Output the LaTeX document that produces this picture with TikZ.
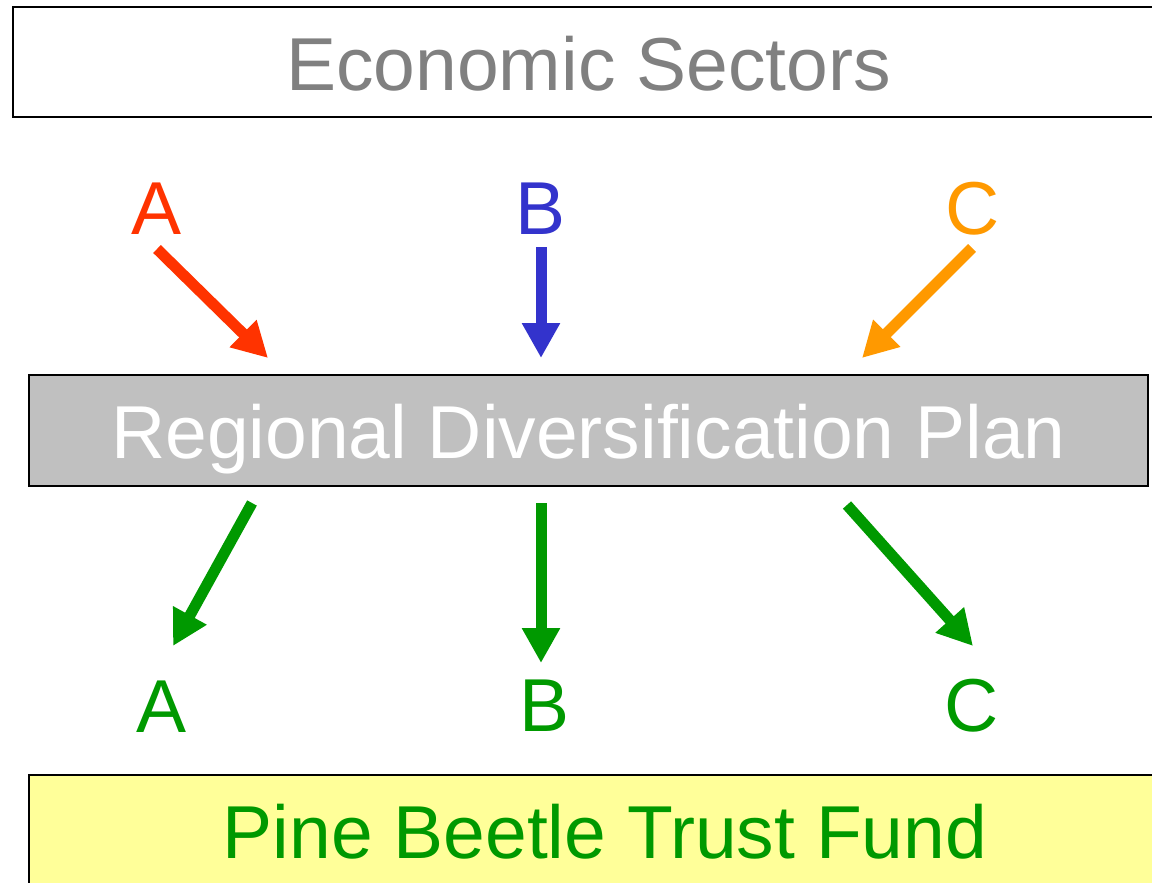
\documentclass[tikz,border=0pt]{standalone}
\usepackage{fontspec}
\setmainfont{Liberation Sans}
\usetikzlibrary{arrows.meta}
\definecolor{cA}{HTML}{FF3300}
\definecolor{cB}{HTML}{3333CC}
\definecolor{cC}{HTML}{FF9900}
\definecolor{cG}{HTML}{009900}
\definecolor{cGrayText}{HTML}{808080}
\definecolor{cGrayBox}{HTML}{C0C0C0}
\definecolor{cYellow}{HTML}{FFFF99}
\tikzset{
  boxframe/.style={draw=black, line width=1.5pt},
  bigtext/.style={font=\fontsize{56.25}{60}\selectfont, anchor=base, inner sep=0pt},
  fatarrow/.style={line width=8.25pt, -{Triangle[length=26.25pt,width=27pt]}},
}
\begin{document}
\begin{tikzpicture}[x=0.75pt,y=-0.75pt]
\useasboundingbox (0,0) rectangle (1152,882);
\clip (0,0) rectangle (1152,882);
% boxes
\draw[boxframe, fill=white] (13,7) rectangle (1170,117);
\coordinate (topbox) at (13,7);
\draw[boxframe, fill=cGrayBox] (29,375) rectangle (1148,486);
\coordinate (midbox) at (29,375);
\draw[boxframe, fill=cYellow] (29,775) rectangle (1170,900);
\coordinate (botbox) at (29,775);
% box texts
\node[bigtext, text=cGrayText] (econ) at (588.5,90) {Economic Sectors};
\node[bigtext, text=white] (plan) at (588.5,458) {Regional Diversification Plan};
\node[bigtext, text=cG] (fund) at (605,858) {Pine Beetle Trust Fund};
% letters
\node[bigtext, text=cA] (tA) at (157,234) {A};
\node[bigtext, text=cB] (tB) at (541,234) {B};
\node[bigtext, text=cC] (tC) at (973,234) {C};
\node[bigtext, text=cG] (bA) at (162,732) {A};
\node[bigtext, text=cG] (bB) at (545,731) {B};
\node[bigtext, text=cG] (bC) at (972,731) {C};
% arrow end points
\coordinate (tAs) at (157,249);
\coordinate (tAe) at (268,358);
\coordinate (tBs) at (541,247);
\coordinate (tBe) at (541,358);
\coordinate (tCs) at (972,248);
\coordinate (tCe) at (862,358);
\coordinate (bAs) at (252,503);
\coordinate (bAe) at (173,646);
\coordinate (bBs) at (541,503);
\coordinate (bBe) at (541,663);
\coordinate (bCs) at (847,505);
\coordinate (bCe) at (973,646);
% arrows
\draw[fatarrow, draw=cA, fill=cA] (tAs) -- (tAe);
\draw[fatarrow, draw=cB, fill=cB] (tBs) -- (tBe);
\draw[fatarrow, draw=cC, fill=cC] (tCs) -- (tCe);
\draw[fatarrow, draw=cG, fill=cG] (bAs) -- (bAe);
\draw[fatarrow, draw=cG, fill=cG] (bBs) -- (bBe);
\draw[fatarrow, draw=cG, fill=cG] (bCs) -- (bCe);
\end{tikzpicture}
\end{document}
